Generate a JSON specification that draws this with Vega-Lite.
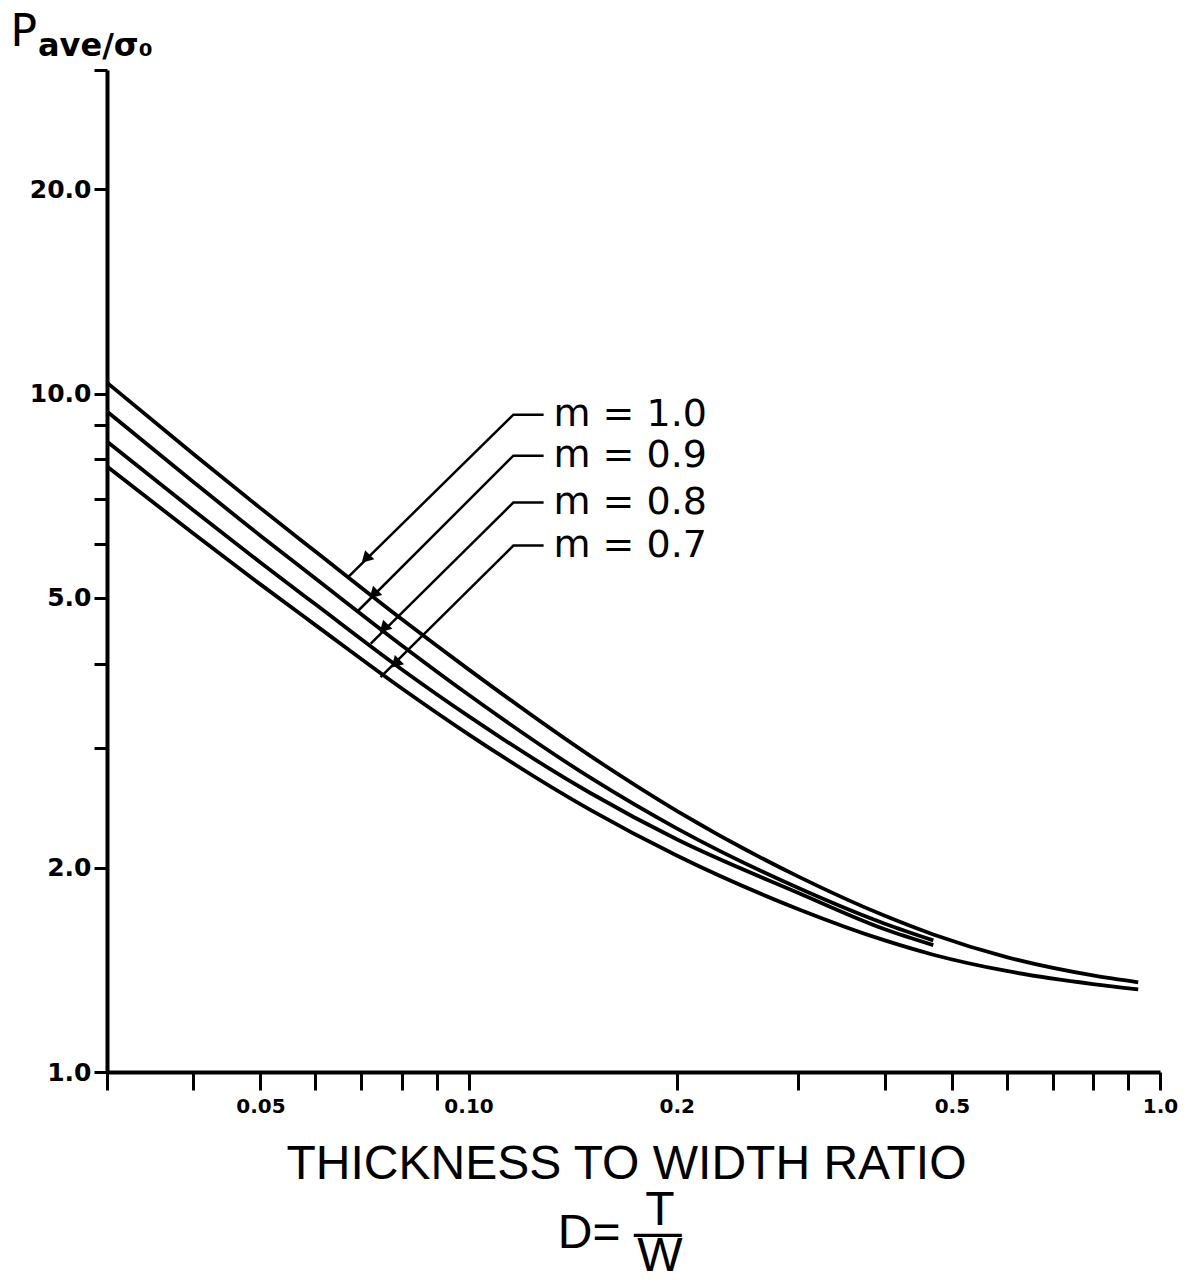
{
  "$schema": "https://vega.github.io/schema/vega-lite/v6.json",
  "autosize": {"type": "none"},
  "padding": {"left": 107, "top": 70, "right": 28, "bottom": 209},
  "width": 1053,
  "height": 1002,
  "background": "white",
  "title": {"text": "ave/σ₀", "anchor": "start", "frame": "group", "orient": "top", "offset": 0, "dx": -69, "dy": 78, "baseline": "alphabetic", "font": "DejaVu Sans", "fontSize": 32, "fontWeight": "bold", "color": "black"},
  "config": {"view": {"stroke": null}, "axis": {"grid": false}},
  "datasets": {
    "curves": [
      {"m": "1.0", "D": 0.03, "P": 10.38}, {"m": "1.0", "D": 0.04, "P": 8.15}, {"m": "1.0", "D": 0.05, "P": 6.78}, {"m": "1.0", "D": 0.06, "P": 5.855}, {"m": "1.0", "D": 0.08, "P": 4.652}, {"m": "1.0", "D": 0.1, "P": 3.922}, {"m": "1.0", "D": 0.15, "P": 2.924}, {"m": "1.0", "D": 0.2, "P": 2.427}, {"m": "1.0", "D": 0.3, "P": 1.941}, {"m": "1.0", "D": 0.4, "P": 1.699}, {"m": "1.0", "D": 0.47, "P": 1.595}, {"m": "1.0", "D": 0.6, "P": 1.477}, {"m": "1.0", "D": 0.8, "P": 1.388}, {"m": "1.0", "D": 0.93, "P": 1.356},
      {"m": "0.9", "D": 0.03, "P": 9.41}, {"m": "0.9", "D": 0.04, "P": 7.41}, {"m": "0.9", "D": 0.05, "P": 6.175}, {"m": "0.9", "D": 0.06, "P": 5.343}, {"m": "0.9", "D": 0.08, "P": 4.257}, {"m": "0.9", "D": 0.1, "P": 3.598}, {"m": "0.9", "D": 0.15, "P": 2.716}, {"m": "0.9", "D": 0.2, "P": 2.287}, {"m": "0.9", "D": 0.3, "P": 1.867}, {"m": "0.9", "D": 0.4, "P": 1.654}, {"m": "0.9", "D": 0.47, "P": 1.563},
      {"m": "0.8", "D": 0.03, "P": 8.5}, {"m": "0.8", "D": 0.04, "P": 6.73}, {"m": "0.8", "D": 0.05, "P": 5.638}, {"m": "0.8", "D": 0.06, "P": 4.895}, {"m": "0.8", "D": 0.08, "P": 3.924}, {"m": "0.8", "D": 0.1, "P": 3.346}, {"m": "0.8", "D": 0.15, "P": 2.578}, {"m": "0.8", "D": 0.2, "P": 2.203}, {"m": "0.8", "D": 0.3, "P": 1.836}, {"m": "0.8", "D": 0.4, "P": 1.623}, {"m": "0.8", "D": 0.47, "P": 1.538},
      {"m": "0.7", "D": 0.03, "P": 7.81}, {"m": "0.7", "D": 0.04, "P": 6.22}, {"m": "0.7", "D": 0.05, "P": 5.234}, {"m": "0.7", "D": 0.06, "P": 4.562}, {"m": "0.7", "D": 0.08, "P": 3.679}, {"m": "0.7", "D": 0.1, "P": 3.146}, {"m": "0.7", "D": 0.15, "P": 2.434}, {"m": "0.7", "D": 0.2, "P": 2.085}, {"m": "0.7", "D": 0.3, "P": 1.738}, {"m": "0.7", "D": 0.4, "P": 1.563}, {"m": "0.7", "D": 0.47, "P": 1.489}, {"m": "0.7", "D": 0.6, "P": 1.409}, {"m": "0.7", "D": 0.8, "P": 1.348}, {"m": "0.7", "D": 0.93, "P": 1.324}
    ],
    "leaders": [
      {"m": "1.0", "D": 0.0669, "P": 5.36}, {"m": "1.0", "D": 0.1161, "P": 9.31}, {"m": "1.0", "D": 0.1284, "P": 9.31},
      {"m": "0.9", "D": 0.0693, "P": 4.79}, {"m": "0.9", "D": 0.1161, "P": 8.1}, {"m": "0.9", "D": 0.1284, "P": 8.1},
      {"m": "0.8", "D": 0.0722, "P": 4.28}, {"m": "0.8", "D": 0.1161, "P": 6.91}, {"m": "0.8", "D": 0.1284, "P": 6.91},
      {"m": "0.7", "D": 0.0746, "P": 3.82}, {"m": "0.7", "D": 0.1161, "P": 5.97}, {"m": "0.7", "D": 0.1284, "P": 5.97}
    ],
    "arrows": [
      {"m": "1.0", "D": 0.071, "P": 5.71}, {"m": "0.9", "D": 0.0729, "P": 5.06}, {"m": "0.8", "D": 0.0754, "P": 4.51}, {"m": "0.7", "D": 0.0784, "P": 4.0}
    ],
    "labels": [
      {"label": "m = 1.0", "D": 0.1327, "P": 9.31}, {"label": "m = 0.9", "D": 0.1327, "P": 8.1}, {"label": "m = 0.8", "D": 0.1327, "P": 6.91}, {"label": "m = 0.7", "D": 0.1327, "P": 5.97}
    ]
  },
  "encoding": {
    "x": {
      "field": "D", "type": "quantitative",
      "scale": {"type": "log", "domain": [0.03, 1], "nice": false},
      "axis": {
        "values": [0.03, 0.04, 0.05, 0.06, 0.07, 0.08, 0.09, 0.1, 0.2, 0.3, 0.4, 0.5, 0.6, 0.7, 0.8, 0.9, 1],
        "labelExpr": "datum.value == 0.05 ? '0.05' : datum.value == 0.1 ? '0.10' : datum.value == 0.2 ? '0.2' : datum.value == 0.5 ? '0.5' : datum.value == 1 ? '1.0' : ''",
        "tickSize": 18, "tickWidth": 3, "tickColor": "black", "domainWidth": 4, "domainColor": "black",
        "labelFont": "DejaVu Sans", "labelFontWeight": "bold", "labelFontSize": 20, "labelColor": "black", "labelPadding": 6,
        "labelFlush": false, "labelOverlap": false,
        "title": ["THICKNESS TO WIDTH RATIO", "\u2800", "\u200b\u00a0\u00a0\u00a0\u00a0\u00a0T", "D= —\u00a0\u200b", "\u200b\u00a0\u00a0\u00a0\u00a0\u00a0W"],
        "titleFont": "Liberation Sans", "titleFontSize": 48, "titleFontWeight": "normal", "titleColor": "black",
        "titleLineHeight": 23, "titleX": 519, "titleY": 106, "titleBaseline": "alphabetic", "titleAlign": "center"
      }
    },
    "y": {
      "field": "P", "type": "quantitative",
      "scale": {"type": "log", "domain": [1, 30], "nice": false},
      "axis": {
        "values": [1, 2, 3, 4, 5, 6, 7, 8, 9, 10, 20, 30],
        "labelExpr": "indexof([1, 2, 5, 10, 20], datum.value) >= 0 ? format(datum.value, '.1f') : ''",
        "tickSize": 13, "tickWidth": 3, "tickColor": "black", "domainWidth": 4, "domainColor": "black",
        "labelFont": "DejaVu Sans", "labelFontWeight": "bold", "labelFontSize": 25, "labelColor": "black", "labelPadding": 3,
        "labelOverlap": false, "labelFlush": false,
        "title": "P", "titleAngle": 0, "titleFont": "DejaVu Sans", "titleFontSize": 44, "titleFontWeight": "normal", "titleColor": "black",
        "titleAlign": "left", "titleBaseline": "alphabetic", "titleX": -97, "titleY": -25
      }
    }
  },
  "layer": [
    {
      "data": {"name": "curves"},
      "mark": {"type": "line", "color": "black", "strokeWidth": 3.8, "interpolate": "monotone"},
      "encoding": {"detail": {"field": "m"}}
    },
    {
      "data": {"name": "leaders"},
      "mark": {"type": "line", "color": "black", "strokeWidth": 2.5},
      "encoding": {"detail": {"field": "m"}}
    },
    {
      "data": {"name": "arrows"},
      "mark": {"type": "point", "shape": "triangle-down", "angle": 45, "size": 170, "filled": true, "color": "black", "opacity": 1},
      "encoding": {}
    },
    {
      "data": {"name": "labels"},
      "mark": {"type": "text", "align": "left", "baseline": "middle", "font": "DejaVu Sans", "fontSize": 38, "color": "black"},
      "encoding": {"text": {"field": "label"}}
    }
  ]
}
